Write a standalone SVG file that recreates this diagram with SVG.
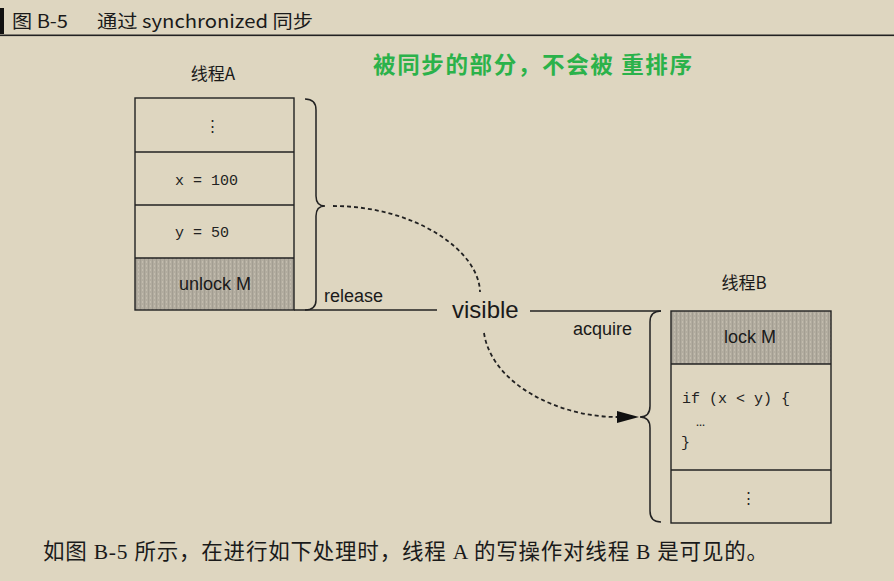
<svg xmlns="http://www.w3.org/2000/svg" width="894" height="581" viewBox="0 0 894 581">
<defs>
<style>
.sans{font-family:"Liberation Sans","Noto Sans CJK SC",sans-serif;fill:#1a1a1a}
.cjk{font-family:"Noto Sans CJK SC",sans-serif;fill:#1a1a1a}
.mono{font-family:"Liberation Mono",monospace;fill:#222;font-size:15px}
.box{fill:none;stroke:#222;stroke-width:1.4}
.line{fill:none;stroke:#222;stroke-width:1.5}
.dash{fill:none;stroke:#222;stroke-width:1.8;stroke-dasharray:4 3}
</style>
<pattern id="hatch" width="4" height="4" patternUnits="userSpaceOnUse">
<rect width="4" height="4" fill="#b2ac9f"/>
<rect x="0" y="0" width="1" height="4" fill="#a39e92"/>
<rect x="2" y="1" width="1" height="2" fill="#c2bcae"/>
</pattern>
<marker id="arr" viewBox="0 0 22 12" refX="0" refY="6" markerWidth="22" markerHeight="12" markerUnits="userSpaceOnUse" orient="auto">
<path d="M0,0 L22,6 L0,12 Z" fill="#111"/>
</marker>
</defs>
<rect width="894" height="581" fill="#ded6c0"/>

<g id="title">
<rect x="0" y="8" width="4" height="26" fill="#111"/>
<text class="cjk" x="12" y="28" font-size="18" textLength="56" lengthAdjust="spacingAndGlyphs">图 B-5</text>
<text class="cjk" x="97" y="28" font-size="18" textLength="216" lengthAdjust="spacingAndGlyphs">通过 synchronized 同步</text>
<rect x="0" y="34.5" width="894" height="1.6" fill="#222"/>
</g>

<g id="note">
<text x="373" y="73" font-family="Noto Sans CJK SC,sans-serif" font-weight="bold" font-size="22.5" fill="#2bb24a" textLength="319" lengthAdjust="spacing">被同步的部分，不会被 重排序</text>
</g>

<g id="threadA">
<text class="cjk" x="213" y="80" font-size="17" text-anchor="middle">线程A</text>
<rect x="135" y="258" width="159" height="52" fill="url(#hatch)"/>
<rect class="box" x="135" y="98" width="159" height="212"/>
<line class="box" x1="135" y1="152" x2="294" y2="152"/>
<line class="box" x1="135" y1="205" x2="294" y2="205"/>
<line class="box" x1="135" y1="258" x2="294" y2="258"/>
<text class="mono" x="212" y="131" text-anchor="middle">⋮</text>
<text class="mono" x="175" y="185">x = 100</text>
<text class="mono" x="175" y="237">y = 50</text>
<text class="sans" x="215" y="290" font-size="18" text-anchor="middle">unlock M</text>
</g>

<g id="threadB">
<text class="cjk" x="744" y="289" font-size="17" text-anchor="middle">线程B</text>
<rect x="671" y="311" width="160" height="53" fill="url(#hatch)"/>
<rect class="box" x="671" y="311" width="160" height="212"/>
<line class="box" x1="671" y1="364" x2="831" y2="364"/>
<line class="box" x1="671" y1="470" x2="831" y2="470"/>
<text class="sans" x="750" y="343" font-size="18" text-anchor="middle">lock M</text>
<text class="mono" x="682" y="403">if (x &lt; y) {</text>
<text class="mono" x="696" y="426">…</text>
<text class="mono" x="681" y="447">}</text>
<text class="mono" x="748" y="503" text-anchor="middle">⋮</text>
</g>

<g id="connectors">
<path class="line" d="M305,99 Q316,99 316,110 L316,196 Q316,206 325,206 Q316,206 316,216 L316,300 Q316,310 305,310"/>
<line class="line" x1="294" y1="310" x2="437" y2="310"/>
<line class="line" x1="530" y1="311" x2="661" y2="311"/>
<path class="line" d="M661,311 Q650,311 650,322 L650,406 Q650,417 640,417 Q650,417 650,428 L650,511 Q650,522 661,522"/>
<path class="dash" d="M333,206 C414,206 479,250 480,292"/>
<path class="dash" d="M484,333 C492,385 560,417 617,417" marker-end="url(#arr)"/>
<text class="sans" x="324" y="302" font-size="18">release</text>
<text class="sans" x="573" y="335" font-size="18">acquire</text>
</g>

<g id="visible">
<text class="sans" x="452" y="318" font-size="24">visible</text>
</g>

<g id="caption">
<text x="43" y="559" font-family="Liberation Serif,Noto Sans CJK SC,serif" font-size="21.5" fill="#1a1a1a" textLength="725" lengthAdjust="spacing">如图 B-5 所示，在进行如下处理时，线程 A 的写操作对线程 B 是可见的。</text>
</g>
</svg>
